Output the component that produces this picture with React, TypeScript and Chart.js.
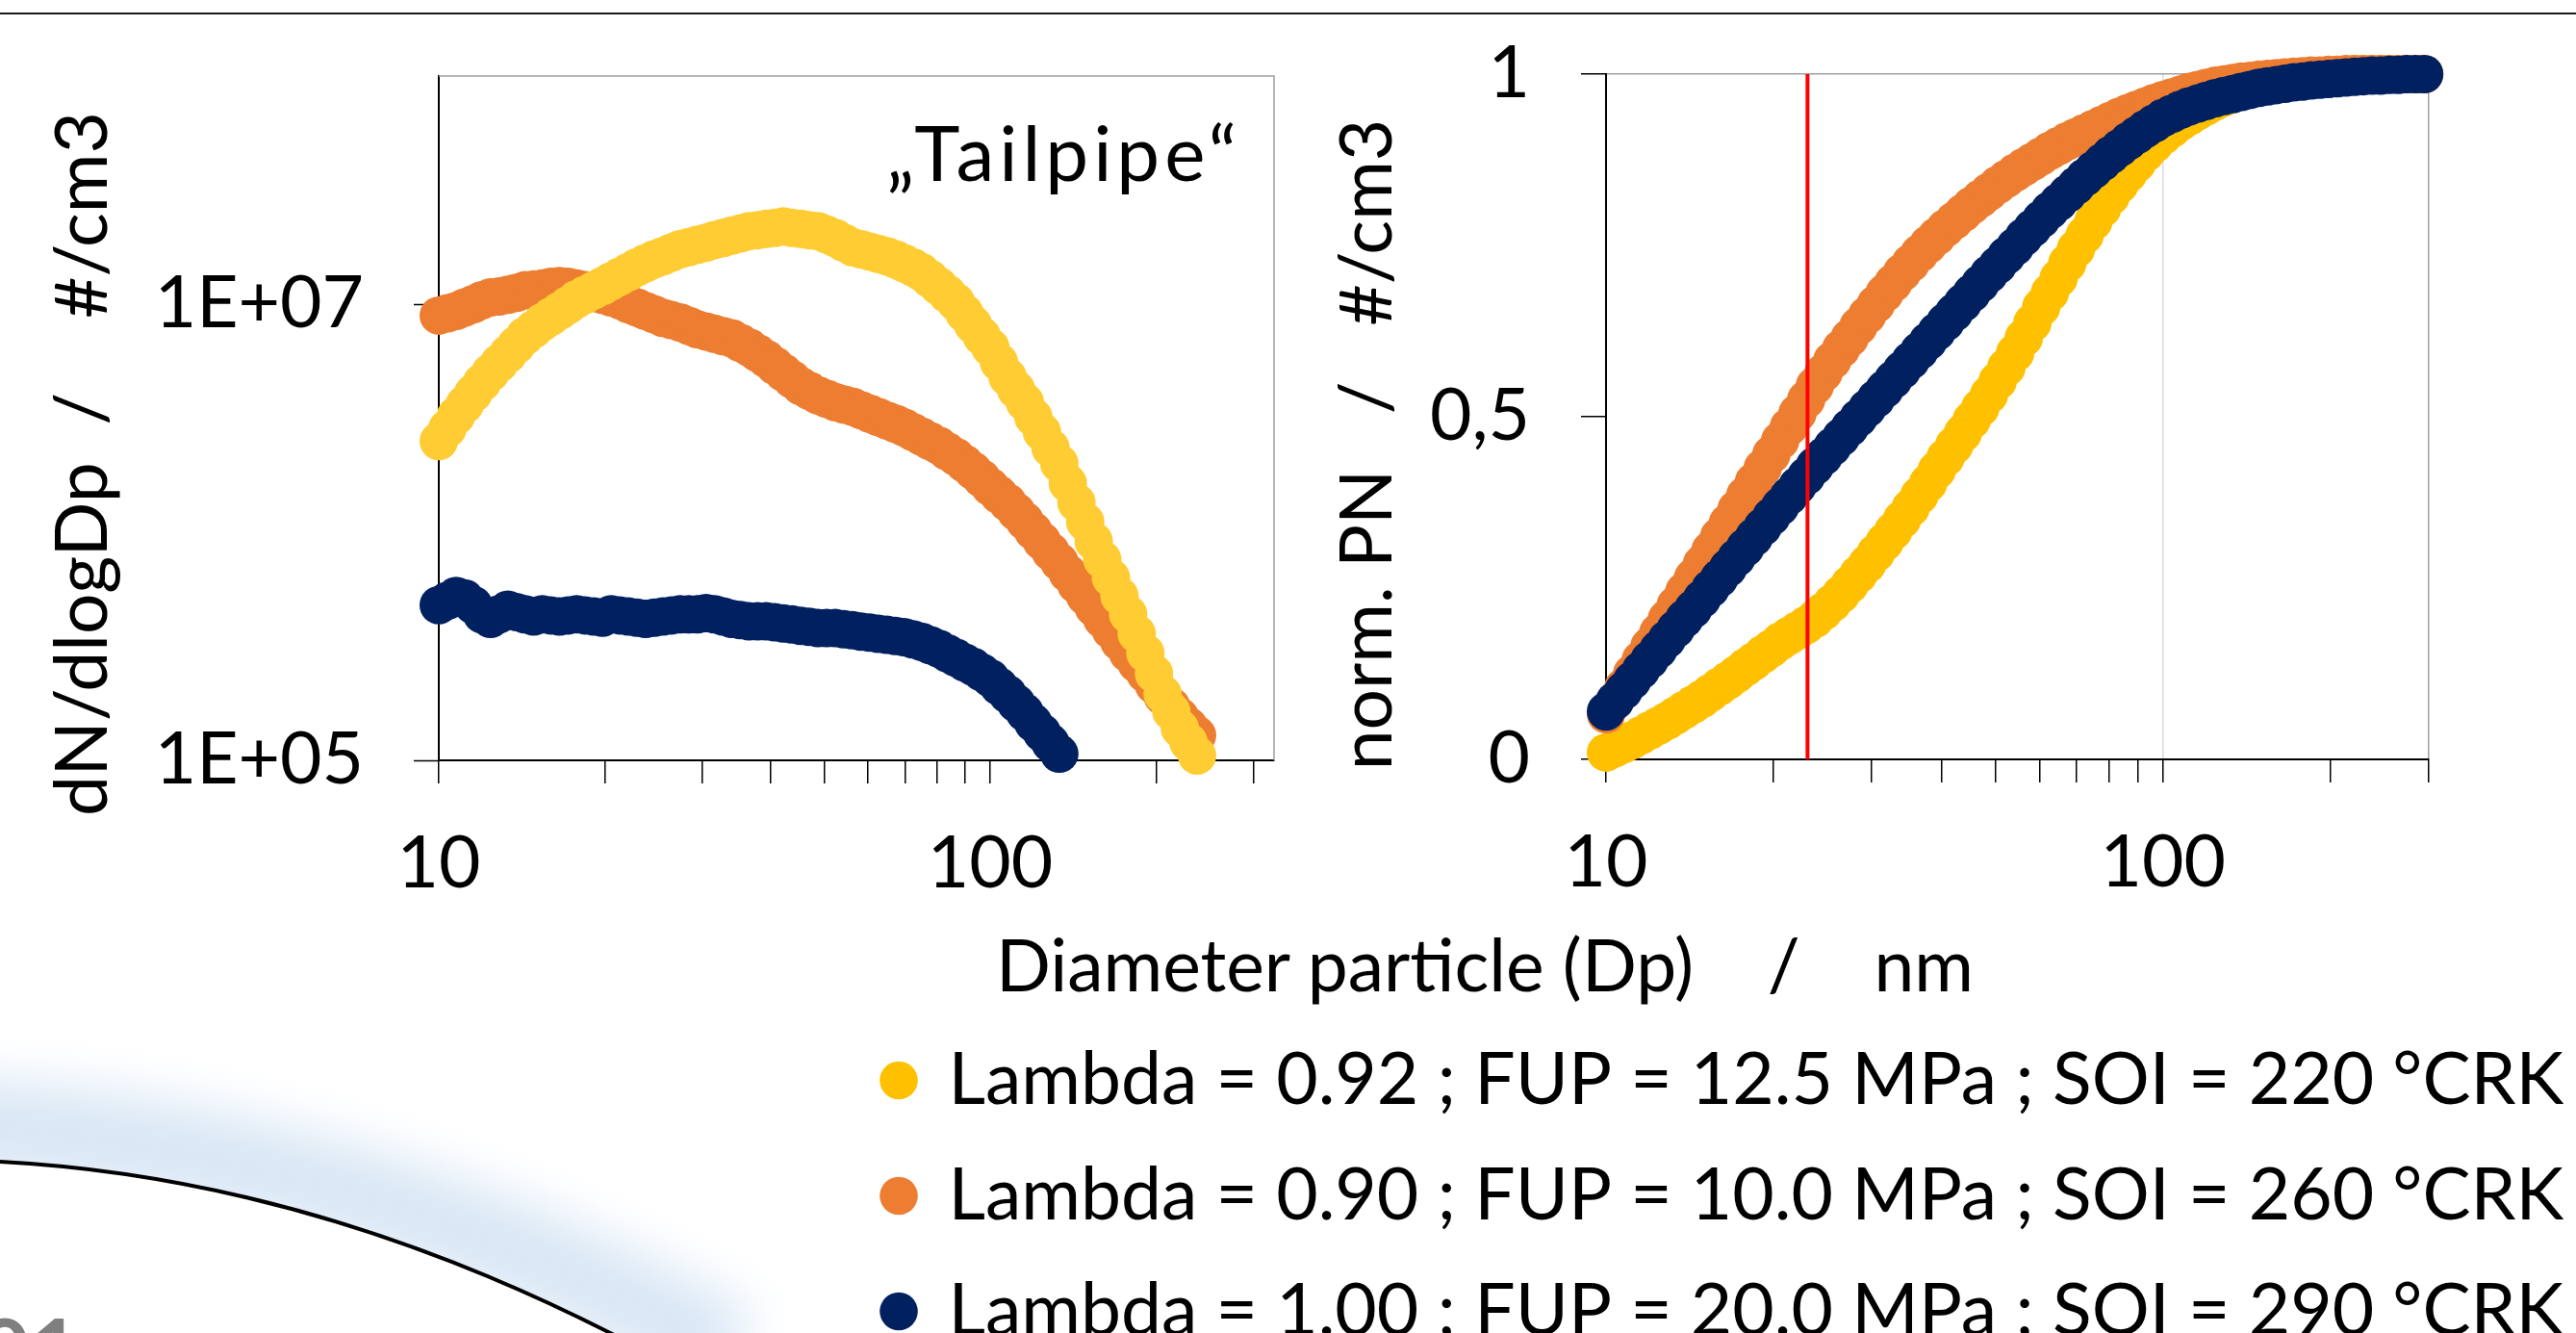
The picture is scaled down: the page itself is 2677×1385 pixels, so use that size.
import React, { useEffect, useRef } from 'react';
import { Chart, registerables } from 'chart.js';

Chart.register(...registerables);

// ---------------- data ----------------
// SMPS channel mid-point diameters (nm), 64 channels per decade
const DIAMETERS_NM = [
  10.0, 10.37, 10.75, 11.14, 11.55, 11.97, 12.41, 12.86, 13.34, 13.82,
  14.33, 14.86, 15.4, 15.96, 16.55, 17.15, 17.78, 18.43, 19.11, 19.81,
  20.54, 21.29, 22.07, 22.88, 23.71, 24.58, 25.48, 26.42, 27.38, 28.39,
  29.43, 30.51, 31.62, 32.78, 33.98, 35.23, 36.52, 37.86, 39.24, 40.68,
  42.17, 43.71, 45.32, 46.98, 48.7, 50.48, 52.33, 54.25, 56.23, 58.29,
  60.43, 62.64, 64.94, 67.32, 69.78, 72.34, 74.99, 77.74, 80.58, 83.54,
  86.6, 89.77, 93.06, 96.47, 100.0, 103.7, 107.5, 111.4, 115.5, 119.7,
  124.1, 128.6, 133.4, 138.2, 143.3, 148.6, 154.0, 159.6, 165.5, 171.5,
  177.8, 184.3, 191.1, 198.1, 205.4, 212.9, 220.7, 228.8, 237.1, 245.8,
  254.8, 264.2, 273.8, 283.9, 294.3,
];

// dN/dlogDp (#/cm3), left panel
const LEFT_YELLOW = [
  2.51e6, 2.85e6, 3.24e6, 3.63e6, 4.07e6, 4.52e6, 5.01e6, 5.5e6, 6.03e6, 6.61e6,
  7.24e6, 7.76e6, 8.32e6, 8.81e6, 9.33e6, 9.89e6, 1.05e7, 1.1e7, 1.15e7, 1.2e7,
  1.26e7, 1.32e7, 1.38e7, 1.45e7, 1.51e7, 1.57e7, 1.62e7, 1.68e7, 1.74e7, 1.78e7,
  1.82e7, 1.86e7, 1.91e7, 1.95e7, 2.0e7, 2.04e7, 2.09e7, 2.11e7, 2.14e7, 2.16e7,
  2.19e7, 2.16e7, 2.14e7, 2.11e7, 2.09e7, 2.02e7, 1.95e7, 1.86e7, 1.78e7, 1.74e7,
  1.7e7, 1.66e7, 1.62e7, 1.57e7, 1.51e7, 1.45e7, 1.38e7, 1.29e7, 1.2e7, 1.11e7,
  1.02e7, 9.12e6, 8.13e6, 7.24e6, 6.46e6, 5.56e6, 4.79e6, 4.22e6, 3.72e6, 3.2e6,
  2.75e6, 2.34e6, 2.0e6, 1.64e6, 1.35e6, 1.11e6, 9.12e5, 7.59e5, 6.31e5, 5.25e5,
  4.37e5, 3.59e5, 2.95e5, 2.4e5, 1.95e5, 1.64e5, 1.38e5, 1.2e5, 1.05e5,
];
const LEFT_ORANGE = [
  8.91e6, 9.12e6, 9.33e6, 9.66e6, 1.0e7, 1.04e7, 1.07e7, 1.08e7, 1.1e7, 1.12e7,
  1.15e7, 1.16e7, 1.17e7, 1.19e7, 1.2e7, 1.19e7, 1.17e7, 1.15e7, 1.12e7, 1.1e7,
  1.07e7, 1.04e7, 1.0e7, 9.66e6, 9.33e6, 9.02e6, 8.71e6, 8.51e6, 8.32e6, 8.04e6,
  7.76e6, 7.59e6, 7.41e6, 7.24e6, 7.08e6, 6.76e6, 6.46e6, 6.1e6, 5.75e6, 5.37e6,
  5.01e6, 4.68e6, 4.37e6, 4.17e6, 3.98e6, 3.85e6, 3.72e6, 3.63e6, 3.55e6, 3.43e6,
  3.31e6, 3.2e6, 3.09e6, 2.99e6, 2.88e6, 2.75e6, 2.63e6, 2.51e6, 2.4e6, 2.26e6,
  2.14e6, 2.0e6, 1.86e6, 1.72e6, 1.58e6, 1.46e6, 1.35e6, 1.23e6, 1.12e6, 1.01e6,
  9.12e5, 8.22e5, 7.41e5, 6.61e5, 5.89e5, 5.25e5, 4.68e5, 4.17e5, 3.72e5, 3.31e5,
  2.95e5, 2.66e5, 2.4e5, 2.14e5, 1.91e5, 1.72e5, 1.55e5, 1.41e5, 1.29e5,
];
const LEFT_NAVY = [
  4.79e5, 5.01e5, 5.25e5, 5.13e5, 4.79e5, 4.37e5, 4.17e5, 4.37e5, 4.57e5, 4.47e5,
  4.37e5, 4.27e5, 4.37e5, 4.32e5, 4.27e5, 4.32e5, 4.37e5, 4.32e5, 4.27e5, 4.22e5,
  4.37e5, 4.32e5, 4.27e5, 4.22e5, 4.17e5, 4.22e5, 4.27e5, 4.32e5, 4.37e5, 4.37e5,
  4.37e5, 4.42e5, 4.37e5, 4.27e5, 4.17e5, 4.12e5, 4.07e5, 4.07e5, 4.07e5, 4.03e5,
  3.98e5, 3.94e5, 3.89e5, 3.85e5, 3.8e5, 3.8e5, 3.8e5, 3.76e5, 3.72e5, 3.67e5,
  3.63e5, 3.59e5, 3.55e5, 3.51e5, 3.47e5, 3.39e5, 3.31e5, 3.2e5, 3.09e5, 2.95e5,
  2.82e5, 2.69e5, 2.57e5, 2.43e5, 2.29e5, 2.11e5, 1.95e5, 1.78e5, 1.62e5, 1.46e5,
  1.32e5, 1.19e5, 1.07e5,
];

// normalised cumulative PN, right panel
const RIGHT_YELLOW = [
  0.01, 0.016, 0.022, 0.028, 0.035, 0.042, 0.049, 0.056, 0.064, 0.072,
  0.08, 0.088, 0.097, 0.106, 0.115, 0.124, 0.134, 0.143, 0.153, 0.162,
  0.172, 0.18, 0.188, 0.196, 0.205, 0.216, 0.228, 0.241, 0.255, 0.27,
  0.285, 0.301, 0.317, 0.333, 0.35, 0.367, 0.385, 0.403, 0.422, 0.44,
  0.458, 0.476, 0.495, 0.513, 0.532, 0.552, 0.572, 0.593, 0.615, 0.637,
  0.66, 0.681, 0.702, 0.724, 0.745, 0.765, 0.785, 0.804, 0.822, 0.839,
  0.855, 0.87, 0.885, 0.898, 0.91, 0.92, 0.93, 0.938, 0.946, 0.953,
  0.96, 0.966, 0.971, 0.976, 0.98, 0.984, 0.987, 0.99, 0.992, 0.994,
  0.995, 0.996, 0.997, 0.998, 0.999, 0.999, 1.0, 1.0, 1.0, 1.0,
  1.0, 1.0, 1.0, 1.0, 1.0,
];
const RIGHT_ORANGE = [
  0.066, 0.085, 0.105, 0.125, 0.145, 0.165, 0.185, 0.205, 0.225, 0.245,
  0.265, 0.285, 0.305, 0.325, 0.345, 0.365, 0.385, 0.405, 0.425, 0.445,
  0.465, 0.485, 0.505, 0.525, 0.545, 0.564, 0.582, 0.599, 0.615, 0.632,
  0.648, 0.664, 0.68, 0.695, 0.71, 0.724, 0.738, 0.751, 0.763, 0.775,
  0.786, 0.797, 0.808, 0.818, 0.828, 0.838, 0.847, 0.856, 0.864, 0.872,
  0.88, 0.888, 0.895, 0.902, 0.908, 0.914, 0.92, 0.926, 0.932, 0.938,
  0.943, 0.948, 0.953, 0.958, 0.962, 0.966, 0.97, 0.974, 0.977, 0.98,
  0.983, 0.985, 0.987, 0.989, 0.99, 0.992, 0.993, 0.994, 0.995, 0.996,
  0.997, 0.998, 0.998, 0.999, 0.999, 1.0, 1.0, 1.0, 1.0, 1.0,
  1.0, 1.0, 1.0, 1.0, 1.0,
];
const RIGHT_NAVY = [
  0.07, 0.085, 0.1, 0.115, 0.13, 0.145, 0.16, 0.175, 0.19, 0.205,
  0.219, 0.234, 0.249, 0.264, 0.279, 0.294, 0.309, 0.324, 0.339, 0.354,
  0.369, 0.384, 0.399, 0.413, 0.428, 0.442, 0.456, 0.47, 0.484, 0.498,
  0.512, 0.526, 0.54, 0.554, 0.568, 0.582, 0.596, 0.61, 0.624, 0.638,
  0.652, 0.666, 0.68, 0.694, 0.708, 0.721, 0.735, 0.748, 0.762, 0.775,
  0.788, 0.801, 0.813, 0.825, 0.837, 0.849, 0.86, 0.871, 0.882, 0.892,
  0.902, 0.911, 0.92, 0.928, 0.936, 0.942, 0.948, 0.953, 0.957, 0.961,
  0.965, 0.968, 0.971, 0.974, 0.977, 0.98, 0.982, 0.984, 0.986, 0.988,
  0.989, 0.991, 0.992, 0.993, 0.994, 0.995, 0.996, 0.997, 0.998, 0.998,
  0.999, 0.999, 1.0, 1.0, 1.0,
];

const CUTOFF_DIAMETER_NM = 23;

const SERIES_LABELS = [
  'Lambda = 0.92 ; FUP = 12.5 MPa ; SOI = 220 °CRK',
  'Lambda = 0.90 ; FUP = 10.0 MPa ; SOI = 260 °CRK',
  'Lambda = 1.00 ; FUP = 20.0 MPa ; SOI = 290 °CRK',
];
const LEFT_COLORS = ['#FFCC33', '#ED7D31', '#002060'];
const RIGHT_COLORS = ['#FFC000', '#ED7D31', '#002060'];

const X_TICK_VALUES = [10, 20, 30, 40, 50, 60, 70, 80, 90, 100, 200, 300];
const X_TICK_LABELED = [10, 100];
const LEFT_X_MAX = 327;
const RIGHT_X_MAX = 300;

const LEFT_Y_TICK_VALUES = [1e5, 1e7];
const LEFT_Y_TICK_LABELS = ['1E+05', '1E+07'];
const LEFT_Y_MIN = 1e5;
const LEFT_Y_MAX = 1e8;

const RIGHT_Y_TICK_VALUES = [0, 0.5, 1];
const RIGHT_Y_TICK_LABELS = ['0', '0,5', '1'];

const LEFT_Y_TITLE = 'dN/dlogDp  /    #/cm3';
const RIGHT_Y_TITLE = 'norm. PN   /   #/cm3';
const X_TITLE = 'Diameter particle (Dp)    /    nm';
const ANNOTATION = '\u201ETailpipe\u201C';

// ---------------- styling ----------------
const FONT_FAMILY = 'Lato, "Open Sans", sans-serif';
const FONT_SIZE = 75;
const tickFont = { family: FONT_FAMILY, size: FONT_SIZE, lineHeight: 1.2 };

const toPoints = (ys: number[]) => ys.map((y, i) => ({ x: DIAMETERS_NM[i], y }));

const scatterSet = (label: string, ys: number[], color: string, order: number) => ({
  label,
  data: toPoints(ys),
  backgroundColor: color,
  borderColor: color,
  borderWidth: 0,
  pointBackgroundColor: color,
  pointBorderWidth: 0,
  pointRadius: 20,
  pointHoverRadius: 20,
  showLine: false,
  clip: false as any,
  order,
});

const framePlugin = (color: string) => ({
  id: 'plotFrame',
  beforeDatasetsDraw(chart: any) {
    const { ctx, chartArea: a } = chart;
    ctx.save();
    ctx.strokeStyle = color;
    ctx.lineWidth = 1.5;
    ctx.beginPath();
    ctx.moveTo(a.left, a.top);
    ctx.lineTo(a.right, a.top);
    ctx.lineTo(a.right, a.bottom);
    ctx.stroke();
    ctx.restore();
  },
});

const zeroPadding = (s: any) => {
  s.paddingTop = 0;
  s.paddingBottom = 0;
  s.paddingLeft = 0;
  s.paddingRight = 0;
};

const xScale = (max: number, height: number, onArea: boolean) => ({
  type: 'logarithmic' as const,
  position: 'bottom' as const,
  min: 10,
  max,
  afterBuildTicks: (s: any) => {
    s.ticks = X_TICK_VALUES.filter((v) => v <= max).map((v) => ({ value: v }));
  },
  afterFit: (s: any) => {
    s.height = height;
    zeroPadding(s);
  },
  ticks: {
    autoSkip: false,
    maxRotation: 0,
    minRotation: 0,
    padding: 39,
    color: '#000',
    font: tickFont,
    callback: (v: any) => (X_TICK_LABELED.includes(Number(v)) ? String(v) : ''),
  },
  grid: {
    drawOnChartArea: onArea,
    drawTicks: true,
    tickLength: 24,
    tickWidth: 1.5,
    tickColor: '#000',
    lineWidth: 1.5,
    color: (c: any) => {
      const v = c.tick ? c.tick.value : null;
      if (v === 100) return '#D9D9D9';
      if (v === 300) return '#A0A0A0';
      return 'rgba(0,0,0,0)';
    },
  },
  border: { display: true, color: '#000', width: 2 },
});

export default function App() {
  const leftRef = useRef<HTMLCanvasElement | null>(null);
  const rightRef = useRef<HTMLCanvasElement | null>(null);

  useEffect(() => {
    Chart.defaults.font.family = FONT_FAMILY;
    const leftChart = new Chart(leftRef.current as HTMLCanvasElement, {
      type: 'scatter',
      data: {
        datasets: [
          scatterSet(SERIES_LABELS[0], LEFT_YELLOW, LEFT_COLORS[0], 0),
          scatterSet(SERIES_LABELS[1], LEFT_ORANGE, LEFT_COLORS[1], 1),
          scatterSet(SERIES_LABELS[2], LEFT_NAVY, LEFT_COLORS[2], 2),
        ],
      } as any,
      options: {
        responsive: false,
        animation: false,
        devicePixelRatio: 1,
        events: [],
        layout: { padding: { left: 0, top: 79, right: 76, bottom: 0 } },
        plugins: { legend: { display: false }, tooltip: { enabled: false } },
        scales: {
          x: xScale(LEFT_X_MAX, 210, false),
          y: {
            type: 'logarithmic',
            position: 'left',
            min: LEFT_Y_MIN,
            max: LEFT_Y_MAX,
            afterBuildTicks: (s: any) => {
              s.ticks = LEFT_Y_TICK_VALUES.map((v) => ({ value: v }));
            },
            afterFit: (s: any) => {
              s.width = 456;
              zeroPadding(s);
            },
            ticks: {
              padding: 52,
              color: '#000',
              font: tickFont,
              callback: (v: any) => {
                const k = LEFT_Y_TICK_VALUES.indexOf(Number(v));
                return k >= 0 ? LEFT_Y_TICK_LABELS[k] : '';
              },
            },
            grid: {
              drawOnChartArea: false,
              drawTicks: true,
              tickLength: 26,
              tickWidth: 1.5,
              tickColor: '#000',
            },
            border: { display: true, color: '#000', width: 2 },
          },
        },
      } as any,
      plugins: [framePlugin('#A0A0A0')],
    });

    const rightChart = new Chart(rightRef.current as HTMLCanvasElement, {
      type: 'scatter',
      data: {
        datasets: [
          scatterSet(SERIES_LABELS[0], RIGHT_YELLOW, RIGHT_COLORS[0], 3),
          scatterSet(SERIES_LABELS[1], RIGHT_ORANGE, RIGHT_COLORS[1], 2),
          scatterSet(SERIES_LABELS[2], RIGHT_NAVY, RIGHT_COLORS[2], 1),
          {
            label: 'cutoff',
            data: [
              { x: CUTOFF_DIAMETER_NM, y: 0 },
              { x: CUTOFF_DIAMETER_NM, y: 1 },
            ],
            showLine: true,
            borderColor: '#FF0000',
            backgroundColor: '#FF0000',
            borderWidth: 4,
            pointRadius: 0,
            pointHoverRadius: 0,
            clip: false,
            order: 0,
          },
        ],
      } as any,
      options: {
        responsive: false,
        animation: false,
        devicePixelRatio: 1,
        events: [],
        layout: { padding: { left: 0, top: 77, right: 0, bottom: 0 } },
        plugins: {
          tooltip: { enabled: false },
          legend: {
            display: true,
            position: 'bottom',
            align: 'start',
            labels: {
              usePointStyle: true,
              pointStyle: 'circle',
              boxWidth: 28,
              boxHeight: 28,
              padding: 45,
              color: '#000',
              font: { family: FONT_FAMILY, size: FONT_SIZE },
              filter: (item: any) => item.datasetIndex < 3,
              sort: (a: any, b: any) => a.datasetIndex - b.datasetIndex,
            },
          },
        },
        scales: {
          x: xScale(RIGHT_X_MAX, 251, true),
          y: {
            type: 'linear',
            position: 'left',
            min: 0,
            max: 1,
            afterBuildTicks: (s: any) => {
              s.ticks = RIGHT_Y_TICK_VALUES.map((v) => ({ value: v }));
            },
            afterFit: (s: any) => {
              s.width = 794;
              zeroPadding(s);
            },
            ticks: {
              padding: 53,
              color: '#000',
              font: tickFont,
              callback: (v: any) => {
                const k = RIGHT_Y_TICK_VALUES.indexOf(Number(v));
                return k >= 0 ? RIGHT_Y_TICK_LABELS[k] : '';
              },
            },
            grid: {
              drawOnChartArea: true,
              drawTicks: true,
              tickLength: 26,
              tickWidth: 1.5,
              tickColor: '#000',
              lineWidth: 1.5,
              color: (c: any) => (c.tick && c.tick.value === 1 ? '#A0A0A0' : 'rgba(0,0,0,0)'),
            },
            border: { display: true, color: '#000', width: 2 },
          },
          // invisible spacer on the right so the plot ends where the reference does
          spacer: {
            type: 'linear',
            position: 'right',
            display: true,
            min: 0,
            max: 1,
            ticks: { display: false },
            grid: { display: false, drawTicks: false },
            border: { display: false },
            afterFit: (s: any) => {
              s.width = 153;
              zeroPadding(s);
            },
          },
        },
      } as any,
    });

    return () => {
      leftChart.destroy();
      rightChart.destroy();
    };
  }, []);

  const textBase: React.CSSProperties = {
    position: 'absolute',
    fontFamily: FONT_FAMILY,
    fontSize: FONT_SIZE,
    lineHeight: `${FONT_SIZE}px`,
    whiteSpace: 'pre',
    color: '#000',
  };

  return (
    <div
      style={{
        position: 'absolute',
        left: 0,
        top: 0,
        width: 2677,
        height: 1385,
        overflow: 'hidden',
        background: '#fff',
      }}
    >
      {/* slide decoration */}
      <div style={{ position: 'absolute', left: 0, top: 13, width: 2677, height: 2, background: '#1a1a1a' }} />
      <svg width={2677} height={1385} style={{ position: 'absolute', left: 0, top: 0 }}>
        <defs>
          <filter id="soft" x="-50%" y="-50%" width="200%" height="200%">
            <feGaussianBlur stdDeviation="26" />
          </filter>
          <clipPath id="outside">
            <path d="M 0 1207 Q 350 1225.6 700 1420 L 1000 1420 L 1000 900 L 0 900 Z" />
          </clipPath>
        </defs>
        <g clipPath="url(#outside)">
          <path d="M -100 1168 Q 350 1178 760 1408" stroke="#d9e7f5" strokeWidth={100} fill="none" filter="url(#soft)" />
        </g>
        <path d="M 0 1207 Q 350 1225.6 700 1420" stroke="#000" strokeWidth={4} fill="none" />
      </svg>
      <div
        style={{
          ...textBase,
          left: -21,
          top: 1355,
          fontSize: 90,
          lineHeight: '90px',
          fontWeight: 700,
          color: '#7f7f7f',
        }}
      >
        01
      </div>

      <canvas
        ref={leftRef}
        width={1400}
        height={1000}
        style={{ position: 'absolute', left: 0, top: 0, width: 1400, height: 1000, display: 'block' }}
      />
      <canvas
        ref={rightRef}
        width={1802}
        height={1410}
        style={{ position: 'absolute', left: 875, top: 0, width: 1802, height: 1410, display: 'block' }}
      />

      {/* axis titles and annotation */}
      <div
        style={{
          ...textBase,
          left: 45,
          top: 1082,
          width: 1200,
          textAlign: 'center',
          transform: 'rotate(-90deg)',
          transformOrigin: 'left top',
        }}
      >
        {LEFT_Y_TITLE}
      </div>
      <div
        style={{
          ...textBase,
          left: 1380,
          top: 1062,
          width: 1200,
          textAlign: 'center',
          transform: 'rotate(-90deg)',
          transformOrigin: 'left top',
        }}
      >
        {RIGHT_Y_TITLE}
      </div>
      <div style={{ ...textBase, left: 843, top: 964, width: 1400, textAlign: 'center' }}>{X_TITLE}</div>
      <div
        style={{
          ...textBase,
          left: 690,
          top: 117,
          width: 600,
          textAlign: 'right',
          fontSize: 80,
          lineHeight: '80px',
          letterSpacing: '5px',
        }}
      >
        {ANNOTATION}
      </div>
    </div>
  );
}
